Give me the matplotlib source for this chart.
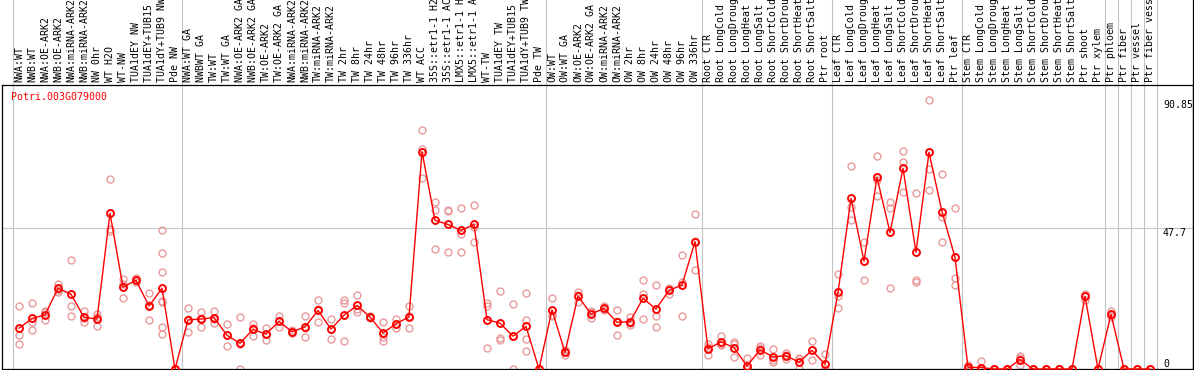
import numpy as np
import matplotlib
matplotlib.use("Agg")
import matplotlib.pyplot as plt
import matplotlib.transforms as mtransforms

gene_name = "Potri.003G079000"

labels = [
    "NWA:WT", "NWB:WT", "NWA:OE-ARK2", "NWB:OE-ARK2", "NWA:miRNA-ARK2", "NWB:miRNA-ARK2",
    "NW 0hr", "WT H2O", "WT-NW", "TUA1dEY NW", "TUA1dEY+TUB15 NW", "TUA1dY+TUB9 NW", "Pde NW",
    "NWA:WT GA", "NWBWT GA", "TW:WT", "TW:WT GA", "NWA:OE-ARK2 GA", "NWB:OE-ARK2 GA",
    "TW:OE-ARK2", "TW:OE-ARK2 GA", "NWA:miRNA-ARK2", "NWB:miRNA-ARK2", "TW:miRNA-ARK2",
    "TW:miRNA-ARK2", "TW 2hr", "TW 8hr", "TW 24hr", "TW 48hr", "TW 96hr", "TW 336hr", "WT ACC",
    "35S::etr1-1 H2O", "35S::etr1-1 ACC", "LMX5::etr1-1 H2O", "LMX5::etr1-1 ACC", "WT-TW",
    "TUA1dEY TW", "TUA1dEY+TUB15 TW", "TUA1dY+TUB9 TW", "Pde TW",
    "OW:WT", "OW:WT GA", "OW:OE-ARK2", "OW:OE-ARK2 GA", "OW:miRNA-ARK2", "OW:miRNA-ARK2",
    "OW 2hr", "OW 8hr", "OW 24hr", "OW 48hr", "OW 96hr", "OW 336hr",
    "Root CTR", "Root LongCold", "Root LongDrought", "Root LongHeat", "Root LongSalt",
    "Root ShortCold", "Root ShortDrought", "Root ShortHeat", "Root ShortSalt", "Ptr root",
    "Leaf CTR", "Leaf LongCold", "Leaf LongDrought", "Leaf LongHeat", "Leaf LongSalt",
    "Leaf ShortCold", "Leaf ShortDrought", "Leaf ShortHeat", "Leaf ShortSalt", "Ptr leaf",
    "Stem CTR", "Stem LongCold", "Stem LongDrought", "Stem LongHeat", "Stem LongSalt",
    "Stem ShortCold", "Stem ShortDrought", "Stem ShortHeat", "Stem ShortSalt", "Ptr shoot",
    "Ptr xylem", "Ptr phloem", "Ptr fiber", "Ptr vessel", "Ptr fiber vessel",
]

means = [
    13.8, 17.1, 18.3, 27.3, 25.3, 17.5, 16.9, 52.7, 27.7, 30.0, 21.3, 27.3, 0.0,
    16.6, 16.9, 17.4, 11.4, 8.7, 13.4, 11.8, 16.1, 12.6, 14.2, 19.8, 13.5, 18.2, 21.5,
    17.6, 12.2, 15.3, 17.6, 73.5, 50.3, 48.9, 46.9, 48.9, 16.7, 15.5, 11.1, 14.4, 0.0,
    20.0, 5.6, 24.7, 18.6, 20.5, 15.8, 16.0, 23.9, 20.3, 26.6, 28.4, 43.1,
    6.8, 9.2, 7.2, 1.0, 6.5, 4.1, 4.5, 2.3, 6.3, 1.6,
    25.9, 57.7, 36.5, 64.8, 46.2, 67.9, 39.5, 73.3, 53.2, 37.8,
    0.6, 0.5, 0.0, 0.0, 3.2, 0.0, 0.0, 0.0, 0.0, 24.6, 0.0,
    18.5, 0.0, 0.0, 0.0,
]

replicates = [
    [21.4, 11.5, 8.4], [22.3, 15.8, 13.1], [19.6, 19.2, 16.5], [28.9, 26.2, 26.8],
    [36.8, 21.2, 17.8], [19.6, 15.8, 17.1], [17.6, 18.7, 14.4], [64.3, 47.2, 46.6],
    [30.3, 23.9, 28.9], [30.7, 29.3, 30.0], [25.6, 21.7, 16.6],
    [46.9, 39.2, 32.7, 23.0, 22.5, 14.2, 11.7], [0.0, 0.0, 0.0],
    [20.5, 16.9, 12.4], [19.2, 17.3, 14.2], [19.6, 15.6, 17.0], [15.1, 7.7, 11.4],
    [17.5, 8.6, 0.0], [15.1, 11.3, 13.8], [13.8, 9.9, 11.7], [18.0, 14.2, 16.1],
    [13.2, 12.6, 12.1], [17.8, 10.8, 14.0], [23.2, 16.0, 20.2], [16.9, 10.1, 13.5],
    [23.2, 22.3, 9.5], [25.0, 19.2, 20.3], [18.0, 17.6, 17.2], [15.8, 10.8, 9.5],
    [16.9, 13.8, 15.2], [21.2, 13.8, 17.8], [80.7, 74.4, 64.7], [56.6, 53.9, 40.6],
    [53.9, 53.4, 39.5], [54.4, 45.8, 39.7], [55.5, 47.9, 43.1], [22.3, 21.2, 7.0],
    [26.4, 10.4, 9.7], [22.1, 11.2, 0.0], [25.7, 16.7, 10.1, 6.1], [0.0, 0.0, 0.0],
    [23.9, 18.3, 17.8], [4.7, 5.6, 6.5], [26.2, 22.8, 25.1], [19.2, 17.1, 19.5],
    [21.4, 19.8, 20.3], [19.8, 11.5, 16.1], [17.6, 14.9, 15.5], [30.2, 25.5, 16.9],
    [28.4, 17.8, 14.2], [27.5, 25.3, 27.0], [38.6, 29.3, 17.8], [52.5, 33.6, 43.2],
    [8.4, 4.7, 7.3], [11.1, 8.1, 8.4], [9.2, 4.1, 8.3], [3.6, 0.0, 0.0],
    [7.7, 4.7, 7.1], [6.8, 2.3, 3.2], [5.4, 3.4, 4.7], [3.6, 0.0, 3.3],
    [9.5, 2.9, 6.5], [5.0, 0.0, 0.0],
    [32.0, 24.6, 20.7], [68.6, 54.8, 50.3], [42.9, 36.6, 30.0], [71.9, 64.1, 58.6],
    [56.6, 54.6, 27.3], [73.7, 69.9, 59.8], [59.5, 30.0, 29.5], [90.85, 67.7, 60.7],
    [65.9, 51.4, 42.9], [54.4, 30.9, 28.4],
    [1.4, 0.3, 0.0], [2.7, 0.0, 0.0], [0.0, 0.0, 0.0], [0.0, 0.0, 0.0],
    [4.5, 3.8, 1.3], [0.0, 0.0, 0.0], [0.0, 0.0, 0.0], [0.0, 0.0, 0.0],
    [0.0, 0.0, 0.0], [25.5, 24.8, 23.5], [0.0, 0.0, 0.0],
    [19.6, 17.6, 18.3], [0.0, 0.0, 0.0], [0.0, 0.0, 0.0], [0.0, 0.0, 0.0],
]

# columns after which a gray separator is drawn
group_ends = [0, 13, 41, 53, 63, 73, 84, 85, 86, 87, 88]
y_marks = [90.85, 47.7, 0]

W, H = 1194, 370
fig = plt.figure(figsize=(W / 100, H / 100), dpi=100)
fig.patch.set_facecolor("white")

ax_left, ax_right = 1.5, 1193.0
ax_top, ax_bottom = 85.0, 369.0
ax = fig.add_axes([ax_left / W, (H - ax_bottom) / H,
                   (ax_right - ax_left) / W, (ax_bottom - ax_top) / H])

px_per_unit = 2.956
ax.set_ylim(0, (ax_bottom - ax_top) / px_per_unit)
ax.set_xlim((ax_left - 19) / 13, (ax_right - 19) / 13)
ax.set_xticks([])
ax.set_yticks([])
for s in ax.spines.values():
    s.set_linewidth(0.9)
    s.set_color("black")

mono = "DejaVu Sans Mono"
fs = 7.1
grid_col = "#c4c4c4"
ext = 1 + ax_top / (ax_bottom - ax_top) + 0.01

for k in group_ends:
    ax.axvline(k - 0.5, ymin=0, ymax=ext, color=grid_col, lw=0.8, clip_on=False, zorder=0)
ax.axhline(47.7, color=grid_col, lw=0.8, zorder=0)

# right border through the header
fig.add_artist(plt.Line2D([1192.5 / W] * 2, [0, 1], color="black", lw=0.9))

x = np.arange(len(means))
trans = mtransforms.blended_transform_factory(ax.transData, ax.transAxes)
for i, lab in enumerate(labels):
    ax.text(i, 1.012, lab, rotation=90, ha="center", va="bottom", fontsize=fs,
            family=mono, color="black", transform=trans, clip_on=False)

for i, reps in enumerate(replicates):
    ax.plot([i] * len(reps), reps, linestyle="none", marker="o", markersize=5,
            markerfacecolor="none", markeredgecolor="#e99a9a", markeredgewidth=1.0,
            clip_on=False, zorder=2)

ax.plot(x, means, color="red", lw=1.0, marker="o", markersize=5,
        markerfacecolor="none", markeredgecolor="red", markeredgewidth=1.4,
        clip_on=False, zorder=3)

ax.text(10 / (ax_right - ax_left), 1 - 7 / (ax_bottom - ax_top), gene_name,
        transform=ax.transAxes, ha="left", va="top", fontsize=fs, family=mono, color="red")

tx = (1163 - ax_left) / (ax_right - ax_left)
tlab = mtransforms.blended_transform_factory(ax.transAxes, ax.transData)
for v in y_marks:
    ax.text(tx, v, f"{v:g}", transform=tlab, ha="left",
            va="bottom" if v == 0 else "top", fontsize=fs, family=mono, color="black")

fig.savefig("out.png", dpi=100)
